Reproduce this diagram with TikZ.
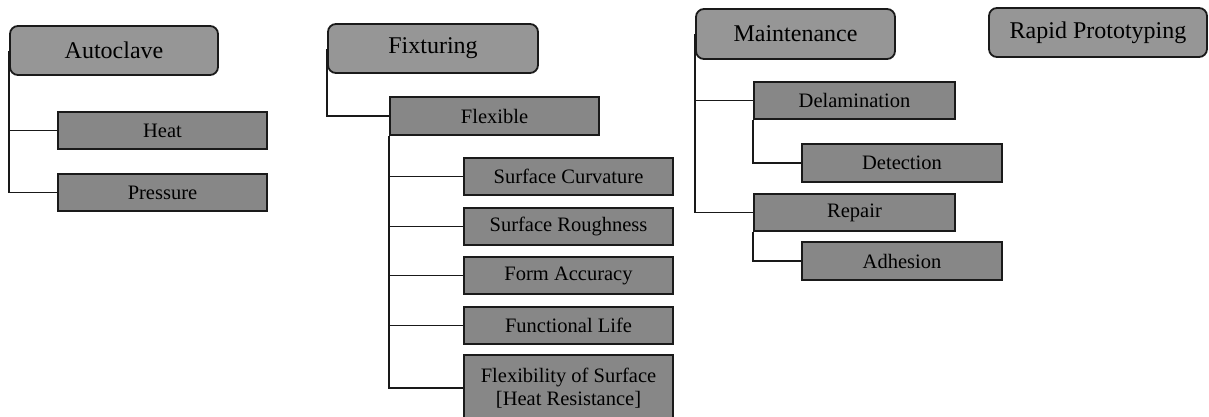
\documentclass[tikz,border=0pt]{standalone}
\usepackage{fontspec}
\setmainfont{Liberation Serif}
\definecolor{headfill}{HTML}{969696}
\definecolor{itemfill}{HTML}{878787}
\definecolor{edgecol}{HTML}{1A1A1A}
\begin{document}
\begin{tikzpicture}[x=1pt,y=-1pt,
  headbox/.style={draw=edgecol, line width=1.8pt, fill=headfill, rounded corners=8pt,
    minimum height=49pt, inner sep=0pt, align=center,
    font=\fontsize{24}{26}\selectfont},
  itembox/.style={draw=edgecol, line width=1.8pt, fill=itemfill,
    minimum height=37pt, inner sep=0pt, align=center,
    font=\fontsize{20.5}{23}\selectfont},
  link/.style={draw=black!90, line width=1.6pt}]
\useasboundingbox (0,0) rectangle (1209,416);

% Autoclave branch
\node[headbox, minimum width=208pt] (auto) at (114,50.5) {Autoclave};
\node[itembox, minimum width=209pt] (heat) at (162.5,130.5) {Heat};
\node[itembox, minimum width=209pt] (press) at (162.5,192.5) {Pressure};

% Fixturing branch
\node[headbox, minimum width=210pt] (fix) at (433,48.5) {Fixturing};
\node[itembox, minimum width=209pt, minimum height=38pt] (flex) at (494.5,116) {Flexible};
\node[itembox, minimum width=209pt] (curv) at (568.5,176.5) {Surface Curvature};
\node[itembox, minimum width=209pt] (rough) at (568.5,226.5) {Surface Roughness};
\node[itembox, minimum width=209pt] (form) at (568.5,275.5) {Form Accuracy};
\node[itembox, minimum width=209pt] (life) at (568.5,325.5) {Functional Life};
\node[itembox, minimum width=209pt, minimum height=66pt] (flexsurf) at (568.5,388)
  {Flexibility of Surface\\{}[Heat Resistance]};

% Maintenance branch
\node[headbox, minimum width=199pt, minimum height=50pt] (maint) at (795.5,34) {Maintenance};
\node[itembox, minimum width=201pt] (delam) at (854.5,100.5) {Delamination};
\node[itembox, minimum width=200pt, minimum height=38pt] (detect) at (902,163) {Detection};
\node[itembox, minimum width=201pt] (repair) at (854.5,212.5) {Repair};
\node[itembox, minimum width=200pt, minimum height=38pt] (adhes) at (902,261) {Adhesion};

% Rapid Prototyping
\node[headbox, minimum width=218pt] (rapid) at (1098,32.5) {Rapid Prototyping};

% connectors
\draw[link] (auto.west) |- (heat.west);
\draw[link] (auto.west) |- (press.west);

\draw[link] (fix.west) |- (flex.west);
\draw[link] (flex.south west) |- (curv.west);
\draw[link] (flex.south west) |- (rough.west);
\draw[link] (flex.south west) |- (form.west);
\draw[link] (flex.south west) |- (life.west);
\draw[link] (flex.south west) |- (flexsurf.west);

\draw[link] (maint.west) |- (delam.west);
\draw[link] (maint.west) |- (repair.west);
\draw[link] (delam.south west) |- (detect.west);
\draw[link] (repair.south west) |- (adhes.west);
\end{tikzpicture}
\end{document}
